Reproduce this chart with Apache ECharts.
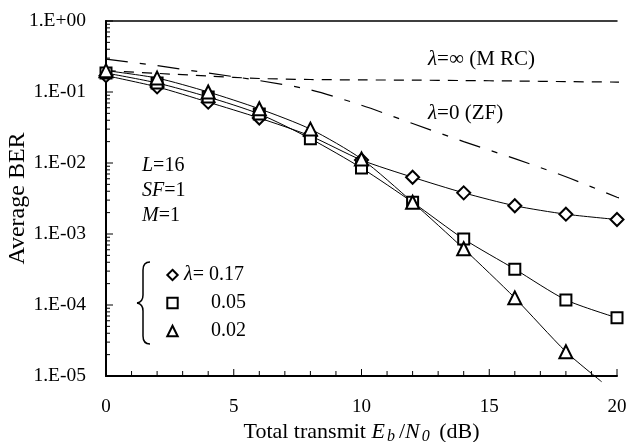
<!DOCTYPE html>
<html>
<head>
<meta charset="utf-8">
<script src="https://cdn.jsdelivr.net/npm/echarts@6.0.0/dist/echarts.min.js"></script>
<style>
  html, body { margin: 0; padding: 0; background: #fff; }
  #chart { width: 627px; height: 442px; }
</style>
</head>
<body>
<div id="chart"></div>
<script>
// Eb/N0 points (dB)
const snr = [0, 2, 4, 6, 8, 10, 12, 14, 16, 18, 20]
// lambda = 0.17 (diamond)
const ber017 = [0.17, 0.118, 0.072, 0.043, 0.024, 0.011, 0.0063, 0.0038, 0.0025, 0.0019, 0.0016]
// lambda = 0.05 (square)
const ber005 = [0.185, 0.134, 0.085, 0.049, 0.022, 0.0085, 0.0028, 0.00085, 0.00032, 0.000118, 0.000066]
// lambda = 0.02 (triangle), the curve runs on below the axis
const snr002 = [0, 2, 4, 6, 8, 10, 12, 14, 16, 18, 19.4]
const ber002 = [0.2, 0.157, 0.1, 0.058, 0.030, 0.0114, 0.0028, 0.00062, 0.000126, 0.000022, 0.0000083]
// dashed references
const snrRef = [0, 2, 4, 6, 8, 10, 12, 14, 16, 18, 20, 20.4]
const berMRC = [0.2, 0.183, 0.168, 0.155, 0.15, 0.148, 0.147, 0.145, 0.143, 0.14, 0.138, 0.137]
const berZF = [0.29, 0.235, 0.185, 0.145, 0.107, 0.065, 0.036, 0.02, 0.0115, 0.0064, 0.0033, 0.0029]
// tick positions
const xTicks = [0, 1, 2, 3, 4, 5, 6, 7, 8, 9, 10, 11, 12, 13, 14, 15, 16, 17, 18, 19, 20]
const decades = [1e-5, 1e-4, 1e-3, 1e-2, 1e-1, 1]
const minorFactors = [2, 3, 4, 5, 6, 7, 8, 9]
const legendNames = ['0.17', '0.05', '0.02']

const FONT = 'Liberation Serif'

let pairs = (xs, ys) => xs.map((x, i) => [x, ys[i]])

// y ticks: [value, length]
let yTicks = []
decades.forEach(d => {
  yTicks.push([0, d, 7])
  if (d < 1) {
    minorFactors.forEach(f => {
      yTicks.push([0, d * f, 4])
    })
  }
})
let xTickData = xTicks.map(v => [v, 1e-5, v % 5 === 0 ? 7 : 5])

// last point of the 0.02 curve only carries the line on, no marker
let data002 = pairs(snr002, ber002).map((p, i) => i === snr002.length - 1 ? { value: p, symbol: 'none' } : p)

let richText = (size) => ({
  i: { fontFamily: FONT, fontSize: size, fontStyle: 'italic', fill: '#000' },
  t: { fontFamily: FONT, fontSize: size, fill: '#000' }
})

let braceStyle = { stroke: '#000', lineWidth: 1.5, fill: 'none' }

let chartInstance = echarts.init(document.getElementById('chart'))

const initOption = {
  animation: false,
  backgroundColor: '#fff',
  grid: {
    left: 106,
    right: 10,
    top: 21,
    bottom: 66,
    containLabel: false,
    outerBoundsMode: 'none'
  },
  legend: {
    data: legendNames,
    orient: 'vertical',
    left: 160,
    top: 260,
    itemWidth: 13,
    itemHeight: 13,
    itemGap: 8,
    lineStyle: {
      opacity: 0
    },
    textStyle: {
      fontFamily: FONT,
      fontSize: 20,
      color: '#000',
      lineHeight: 20,
      rich: {
        l: { fontFamily: FONT, fontSize: 20, fontStyle: 'italic', color: '#000', lineHeight: 20 },
        t: { fontFamily: FONT, fontSize: 20, color: '#000', lineHeight: 20 },
        p: { width: 27, lineHeight: 20 }
      }
    },
    formatter: name => name === '0.17' ? '{l|λ}{t|= 0.17}' : '{p|}{t|' + name + '}'
  },
  xAxis: [
    {
      type: 'value',
      min: 0,
      max: 20,
      interval: 5,
      name: '{t|Total transmit }{i|E}{s|b}{t|/}{i|N}{s|0}{t| (dB)}',
      nameLocation: 'middle',
      nameGap: 43,
      nameMoveOverlap: false,
      nameTextStyle: {
        rich: {
          t: { fontFamily: FONT, fontSize: 22, color: '#000' },
          i: { fontFamily: FONT, fontSize: 22, fontStyle: 'italic', color: '#000' },
          s: { fontFamily: FONT, fontSize: 16, fontStyle: 'italic', color: '#000', padding: [10, 4, 0, 2] }
        }
      },
      axisLine: { show: true, lineStyle: { color: '#000', width: 2 } },
      axisTick: { show: false },
      splitLine: { show: false },
      axisLabel: {
        margin: 22,
        fontFamily: FONT,
        fontSize: 19,
        color: '#000'
      }
    },
    {
      type: 'value',
      position: 'top',
      min: 0,
      max: 20,
      axisLine: { show: true, lineStyle: { color: '#000', width: 1.5 } },
      axisTick: { show: false },
      axisLabel: { show: false },
      splitLine: { show: false }
    }
  ],
  yAxis: [
    {
      type: 'log',
      logBase: 10,
      min: 1e-5,
      max: 1,
      name: 'Average BER',
      nameLocation: 'middle',
      nameRotate: 90,
      nameGap: 76,
      nameMoveOverlap: false,
      nameTextStyle: {
        fontFamily: FONT,
        fontSize: 24,
        color: '#000'
      },
      axisLine: { show: true, lineStyle: { color: '#000', width: 2 } },
      axisTick: { show: false },
      splitLine: { show: false },
      axisLabel: {
        margin: 20,
        fontFamily: FONT,
        fontSize: 19.5,
        color: '#000',
        formatter: v => {
          let e = Math.round(Math.log10(v))
          return '1.E' + (e < 0 ? '-' : '+') + String(Math.abs(e)).padStart(2, '0')
        }
      }
    },
    {
      type: 'log',
      logBase: 10,
      position: 'right',
      min: 1e-5,
      max: 1,
      axisLine: { show: true, lineStyle: { color: '#000', width: 1.5 } },
      axisTick: { show: false },
      axisLabel: { show: false },
      splitLine: { show: false }
    }
  ],
  graphic: [
    {
      type: 'group',
      children: [
        { type: 'bezierCurve', shape: { x1: 150, y1: 262, cpx1: 143, cpy1: 262, x2: 143, y2: 270 }, style: braceStyle },
        { type: 'line', shape: { x1: 143, y1: 270, x2: 143, y2: 295 }, style: braceStyle },
        { type: 'bezierCurve', shape: { x1: 143, y1: 295, cpx1: 143, cpy1: 302, x2: 137, y2: 303 }, style: braceStyle },
        { type: 'bezierCurve', shape: { x1: 137, y1: 303, cpx1: 143, cpy1: 304, x2: 143, y2: 311 }, style: braceStyle },
        { type: 'line', shape: { x1: 143, y1: 311, x2: 143, y2: 336 }, style: braceStyle },
        { type: 'bezierCurve', shape: { x1: 143, y1: 336, cpx1: 143, cpy1: 344, x2: 150, y2: 344 }, style: braceStyle }
      ]
    },
    {
      type: 'text', left: 142, top: 156,
      style: { text: '{i|L}{t|=16}', rich: richText(20) }
    },
    {
      type: 'text', left: 142, top: 181,
      style: { text: '{i|SF}{t|=1}', rich: richText(20) }
    },
    {
      type: 'text', left: 142, top: 206,
      style: { text: '{i|M}{t|=1}', rich: richText(20) }
    },
    {
      type: 'text', left: 428, top: 49,
      style: { text: '{i|λ}{t|=∞ (M RC)}', rich: richText(21) }
    },
    {
      type: 'text', left: 428, top: 103,
      style: { text: '{i|λ}{t|=0 (ZF)}', rich: richText(21) }
    }
  ],
  series: [
    {
      name: 'MRC',
      type: 'line',
      data: pairs(snrRef, berMRC),
      symbol: 'none',
      smooth: 0.3,
      clip: false,
      lineStyle: { color: '#000', width: 1.2, type: [10, 8] }
    },
    {
      name: 'ZF',
      type: 'line',
      data: pairs(snrRef, berZF),
      symbol: 'none',
      smooth: 0.3,
      clip: false,
      lineStyle: { color: '#000', width: 1.2, type: [22, 12, 6, 12] }
    },
    {
      name: '0.17',
      type: 'line',
      data: pairs(snr, ber017),
      symbol: 'emptyDiamond',
      symbolSize: 13,
      smooth: 0.25,
      clip: false,
      color: '#000',
      itemStyle: { color: '#000', borderWidth: 1.8 },
      lineStyle: { color: '#000', width: 1 }
    },
    {
      name: '0.05',
      type: 'line',
      data: pairs(snr, ber005),
      symbol: 'emptyRect',
      symbolSize: 11,
      smooth: 0.25,
      clip: false,
      color: '#000',
      itemStyle: { color: '#000', borderWidth: 1.8 },
      lineStyle: { color: '#000', width: 1 }
    },
    {
      name: '0.02',
      type: 'line',
      data: data002,
      symbol: 'emptyTriangle',
      symbolSize: 13,
      smooth: 0.25,
      clip: false,
      color: '#000',
      itemStyle: { color: '#000', borderWidth: 1.8 },
      lineStyle: { color: '#000', width: 1 }
    },
    {
      name: 'yTicks',
      type: 'custom',
      silent: true,
      clip: false,
      data: yTicks,
      renderItem: (params, api) => {
        let p = api.coord([0, api.value(1)])
        let len = api.value(2)
        return {
          type: 'line',
          shape: { x1: p[0], y1: p[1], x2: p[0] + len, y2: p[1] },
          style: { stroke: '#000', lineWidth: 1 }
        }
      }
    },
    {
      name: 'xTicks',
      type: 'custom',
      silent: true,
      clip: false,
      data: xTickData,
      renderItem: (params, api) => {
        let p = api.coord([api.value(0), 1e-5])
        let len = api.value(2)
        return {
          type: 'line',
          shape: { x1: p[0], y1: p[1], x2: p[0], y2: p[1] - len },
          style: { stroke: '#000', lineWidth: 1 }
        }
      }
    }
  ]
}

chartInstance.setOption(initOption)
</script>
</body>
</html>
